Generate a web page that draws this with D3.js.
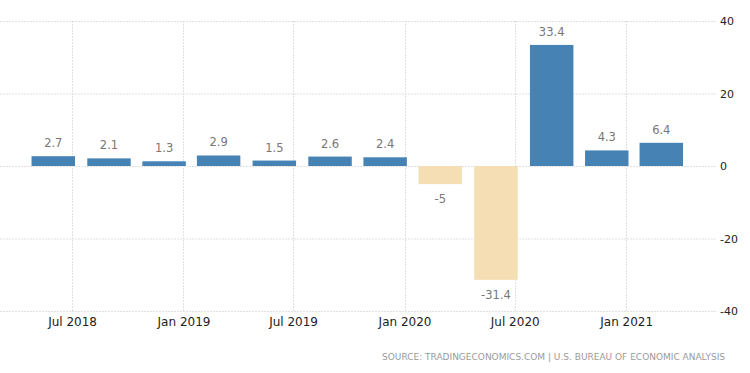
<!DOCTYPE html>
<html>
<head>
<meta charset="utf-8">
<script src="https://cdn.jsdelivr.net/npm/d3@7"></script>
<style>
  html, body { margin: 0; padding: 0; background: #fff; }
  svg { display: block; font-family: "DejaVu Sans", sans-serif; }
</style>
</head>
<body>
<script>
// quarterly GDP growth, annualized (bars sit near the middle of the quarter's last months)
const dates = ["2018-05-31", "2018-08-31", "2018-11-30", "2019-02-28", "2019-05-31", "2019-08-31",
               "2019-11-30", "2020-02-29", "2020-05-31", "2020-08-31", "2020-11-30", "2021-02-28"];
const values = [2.7, 2.1, 1.3, 2.9, 1.5, 2.6, 2.4, -5, -31.4, 33.4, 4.3, 6.4];
const labels = ["2.7", "2.1", "1.3", "2.9", "1.5", "2.6", "2.4", "-5", "-31.4", "33.4", "4.3", "6.4"];

const xTicks = ["2018-07-01", "2019-01-01", "2019-07-01", "2020-01-01", "2020-07-01", "2021-01-01"];
const xTickLabels = ["Jul 2018", "Jan 2019", "Jul 2019", "Jan 2020", "Jul 2020", "Jan 2021"];
const yTicks = [40, 20, 0, -20, -40];
const yTickLabels = ["40", "20", "0", "-20", "-40"];

const sourceText = "SOURCE: TRADINGECONOMICS.COM | U.S. BUREAU OF ECONOMIC ANALYSIS";

const width = 750, height = 373;
const plotLeft = 0, plotRight = 717, plotTop = 21, plotBottom = 311;

const parse = d3.utcParse("%Y-%m-%d");

const svg = d3.select("body").append("svg")
    .attr("width", width)
    .attr("height", height);

/* scales */
const x = d3.scaleUtc()
    .domain([parse("2018-03-04"), parse("2021-05-31")])
    .range([plotLeft, plotRight]);

const y = d3.scaleLinear()
    .domain([-40, 40])
    .range([plotBottom, plotTop]);

/* grid */
svg.append("g")
    .selectAll("line")
    .data(yTicks)
    .enter()
    .append("line")
    .attr("x1", plotLeft)
    .attr("x2", plotRight)
    .attr("y1", d => y(d) + 0.5)
    .attr("y2", d => y(d) + 0.5)
    .attr("stroke", "#e0e0e0")
    .attr("stroke-dasharray", "2,1");

svg.append("g")
    .selectAll("line")
    .data(xTicks)
    .enter()
    .append("line")
    .attr("x1", d => Math.round(x(parse(d))) + 0.5)
    .attr("x2", d => Math.round(x(parse(d))) + 0.5)
    .attr("y1", plotTop)
    .attr("y2", plotBottom)
    .attr("stroke", "#e0e0e0")
    .attr("stroke-dasharray", "2,1");

/* y axis on the right, labels only */
const yAxis = d3.axisRight(y)
    .tickValues(yTicks)
    .tickFormat((d, i) => yTickLabels[i])
    .tickSize(0)
    .tickPadding(0);

const yG = svg.append("g")
    .attr("transform", "translate(" + (plotRight + 3) + ",0)")
    .call(yAxis);
yG.select(".domain").remove();
yG.selectAll("text")
    .attr("font-family", "DejaVu Sans, sans-serif")
    .attr("font-size", 11)
    .attr("fill", "#222");

/* x axis, labels only */
const xAxis = d3.axisBottom(x)
    .tickValues(xTicks.map(parse))
    .tickFormat((d, i) => xTickLabels[i])
    .tickSize(0)
    .tickPadding(0);

const xG = svg.append("g")
    .attr("transform", "translate(0," + (plotBottom + 6) + ")")
    .call(xAxis);
xG.select(".domain").remove();
xG.selectAll("text")
    .attr("font-family", "DejaVu Sans, sans-serif")
    .attr("font-size", 12)
    .attr("fill", "#222");

/* bars */
const spacing = x(parse(dates[1])) - x(parse(dates[0]));
const barWidth = spacing * 0.78;

svg.selectAll("rect.bar")
    .data(values)
    .enter()
    .append("rect")
    .attr("class", "bar")
    .attr("x", (d, i) => x(parse(dates[i])) - barWidth / 2)
    .attr("y", d => y(Math.max(0, d)))
    .attr("width", barWidth)
    .attr("height", d => Math.abs(y(d) - y(0)))
    .attr("fill", d => d < 0 ? "#f5deb3" : "#4682b4");

/* value labels */
svg.selectAll("text.val")
    .data(values)
    .enter()
    .append("text")
    .attr("class", "val")
    .attr("x", (d, i) => x(parse(dates[i])))
    .attr("y", d => d < 0 ? y(d) + 19 : y(d) - 9)
    .attr("text-anchor", "middle")
    .attr("font-size", 11.5)
    .attr("fill", "#777")
    .text((d, i) => labels[i]);

/* source */
svg.append("text")
    .attr("x", 382)
    .attr("y", 360)
    .attr("font-size", 9)
    .attr("fill", "#9a9a9a")
    .attr("textLength", 343)
    .attr("lengthAdjust", "spacing")
    .text(sourceText);
</script>
</body>
</html>
